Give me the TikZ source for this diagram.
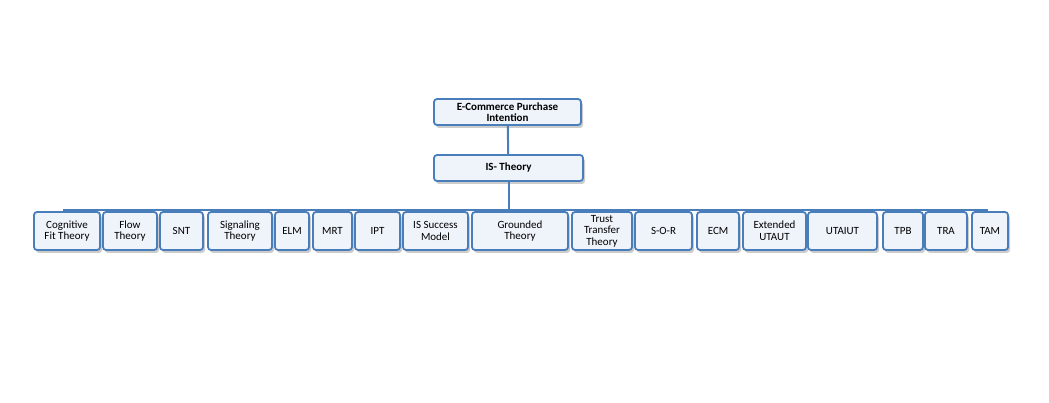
\documentclass[tikz,border=0pt]{standalone}
\usepackage{fontspec}
\setmainfont{Carlito}
\usepackage{xcolor}
\usepackage{tikz}
\usetikzlibrary{positioning,shadows}

\definecolor{boxline}{HTML}{4A7EBB}
\definecolor{boxfill}{HTML}{EFF3FA}

\tikzset{
  theorybox/.style={draw=boxline, line width=1.8pt, fill=boxfill, rounded corners=3pt,
    align=center, inner sep=0.5pt, font=\fontsize{11}{11.6}\selectfont,
    drop shadow={fill=black!50, opacity=0.4, shadow xshift=2pt, shadow yshift=-3pt}},
  headbox/.style={theorybox, font=\bfseries\fontsize{11}{11.6}\selectfont},
  link/.style={draw=boxline, line width=2pt}
}

\begin{document}
\begin{tikzpicture}[x=1pt, y=-1pt]
	\useasboundingbox (0,0) rectangle (1049,403);

	% upper part of the tree
	\node[headbox, minimum width=147pt, minimum height=26pt] (ecpi) at (507.5,112) {E-Commerce Purchase\\Intention};
	\node[headbox, minimum width=149pt, minimum height=26pt] (ist) at (508.5,168) {IS- Theory};

	\coordinate (barL) at (63,210);
	\coordinate (barR) at (988,210);
	\coordinate (barM) at (ist.south |- barL);

	\draw[link] (ecpi) -- (ist);
	\draw[link] (ist) -- (barM);
	\draw[link] (barL) -- (barR);

	% the theories under the bar: left edge / right edge / text / name
	\foreach \l/\r/\txt/\nm in {
			34/100/{Cognitive\\Fit Theory}/cft,
			103/157/{Flow\\Theory}/flow,
			160/203/{SNT}/snt,
			208/272/{Signaling\\Theory}/sig,
			275/309/{ELM}/elm,
			313/352/{MRT}/mrt,
			355/400/{IPT}/ipt,
			403/468/{IS Success\\Model}/issm,
			472/568/{Grounded\\Theory}/gt,
			572/632/{Trust\\Transfer\\Theory}/ttt,
			635/692/{S-O-R}/sor,
			697/739/{ECM}/ecm,
			743/806/{Extended\\UTAUT}/eutaut,
			808/877/{UTAIUT}/utaiut,
			883/923/{TPB}/tpb,
			925/967/{TRA}/tra,
			972/1008/{TAM}/tam} {
			\node[theorybox, minimum width={(\r-\l)*1pt}, minimum height=38pt] (\nm) at ({(\l+\r)/2},231) {\txt};
		}
\end{tikzpicture}
\end{document}
